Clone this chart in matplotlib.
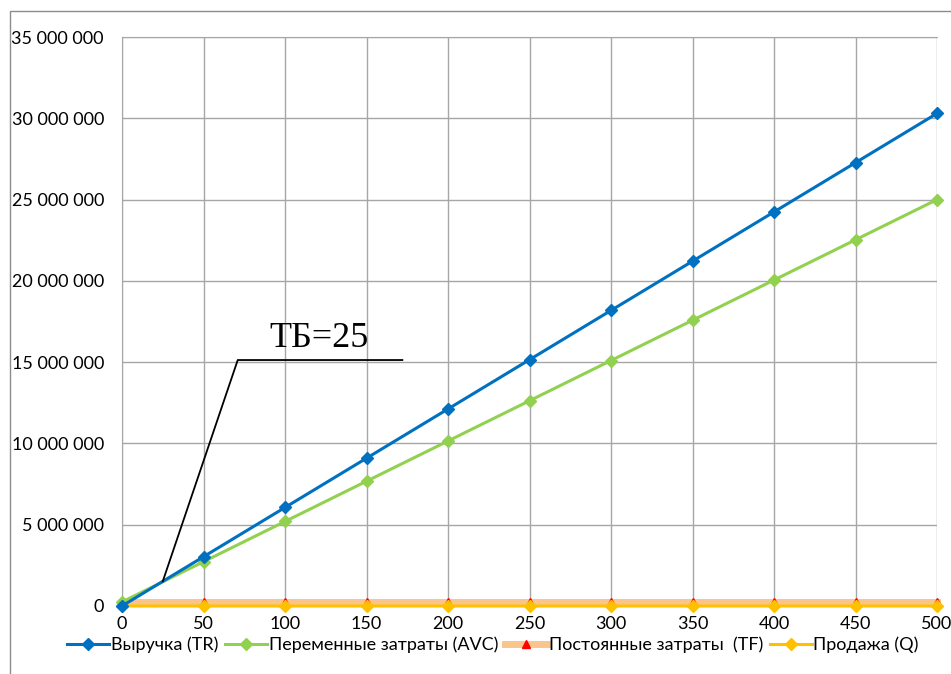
"""Break-even chart: revenue vs. costs by sales volume."""
import numpy as np
import matplotlib.pyplot as plt
from matplotlib.lines import Line2D
from matplotlib.patches import Rectangle
from matplotlib.ticker import FuncFormatter

# Sales volume, units
volume = [0, 50, 100, 150, 200, 250, 300, 350, 400, 450, 500]

# Revenue (TR)
revenue = [0, 3030000, 6060000, 9090000, 12120000, 15150000,
           18180000, 21210000, 24240000, 27270000, 30300000]

# Variable + fixed costs (AVC series)
var_costs = [250000, 2725000, 5200000, 7675000, 10150000, 12625000,
             15100000, 17575000, 20050000, 22525000, 25000000]

# Fixed costs (TF)
fixed_costs = [250000] * 11

# Sales (Q)
sales = volume

break_even = 25

plt.rcParams['font.family'] = ['Lato', 'DejaVu Sans']

fig = plt.figure(figsize=(9.51, 6.74), dpi=100)
ax = fig.add_axes([122 / 951, 1 - 606 / 674, (937 - 122) / 951, (606 - 37) / 674])

# outer chart frame
fig.patches.append(Rectangle((10 / 951, -0.1), 1.2, 1.1 - 11 / 674,
                             transform=fig.transFigure, fill=False,
                             edgecolor='#8c8c8c', linewidth=1))

ax.plot(volume, fixed_costs, color='#FAC58A', linewidth=5, marker='^',
        markersize=6, markerfacecolor='#FF0000', markeredgecolor='#FF0000',
        zorder=3, clip_on=False)
ax.plot(volume, sales, color='#FFC000', linewidth=2.2, marker='D',
        markersize=6.5, zorder=4, clip_on=False)
ax.plot(volume, var_costs, color='#92D050', linewidth=2.2, marker='D',
        markersize=6, zorder=5, clip_on=False)
ax.plot(volume, revenue, color='#0070C0', linewidth=2.2, marker='D',
        markersize=6, zorder=6, clip_on=False)

ax.set_xlim(0, 500)
ax.set_ylim(0, 35000000)
ax.set_xticks(volume)
ax.set_yticks(np.arange(0, 35000001, 5000000))
ax.yaxis.set_major_formatter(FuncFormatter(lambda v, p: f'{int(v):,}'.replace(',', ' ')))

ax.grid(True, color='#a6a6a6', linewidth=1)
ax.set_axisbelow(True)
for side in ['left', 'top', 'right', 'bottom']:
    ax.spines[side].set_visible(False)
ax.spines['left'].set_visible(True)
ax.spines['left'].set_color('#a6a6a6')
ax.spines['top'].set_visible(True)
ax.spines['top'].set_color('#a6a6a6')

ax.tick_params(axis='both', length=0, labelsize=13, colors='black')
ax.tick_params(axis='y', pad=13)
ax.tick_params(axis='x', pad=7)

# break-even callout
bep_y = np.interp(break_even, volume, revenue)
ax.plot([break_even, 71, 172], [bep_y, 15130000, 15130000],
        color='black', linewidth=1.3, zorder=7)
ax.text(121, 15450000, 'ТБ=25', fontsize=26, family='Liberation Serif',
        ha='center', va='bottom', zorder=8)

handles = [
    Line2D([], [], color='#0070C0', linewidth=2.2, marker='D', markersize=6),
    Line2D([], [], color='#92D050', linewidth=2.2, marker='D', markersize=6),
    Line2D([], [], color='#FAC58A', linewidth=5, marker='^', markersize=6,
           markerfacecolor='#FF0000', markeredgecolor='#FF0000'),
    Line2D([], [], color='#FFC000', linewidth=2.2, marker='D', markersize=6.5),
]
labels = ['Выручка (TR)', 'Переменные затраты (AVC)',
          'Постоянные затраты  (TF)', 'Продажа (Q)']
fig.legend(handles, labels, loc='center', bbox_to_anchor=(493 / 951, 1 - 645 / 674),
           ncol=4, frameon=False, fontsize=13, handlelength=2.3,
           handletextpad=0.1, columnspacing=0.4)

plt.savefig('out.png', dpi=100)
